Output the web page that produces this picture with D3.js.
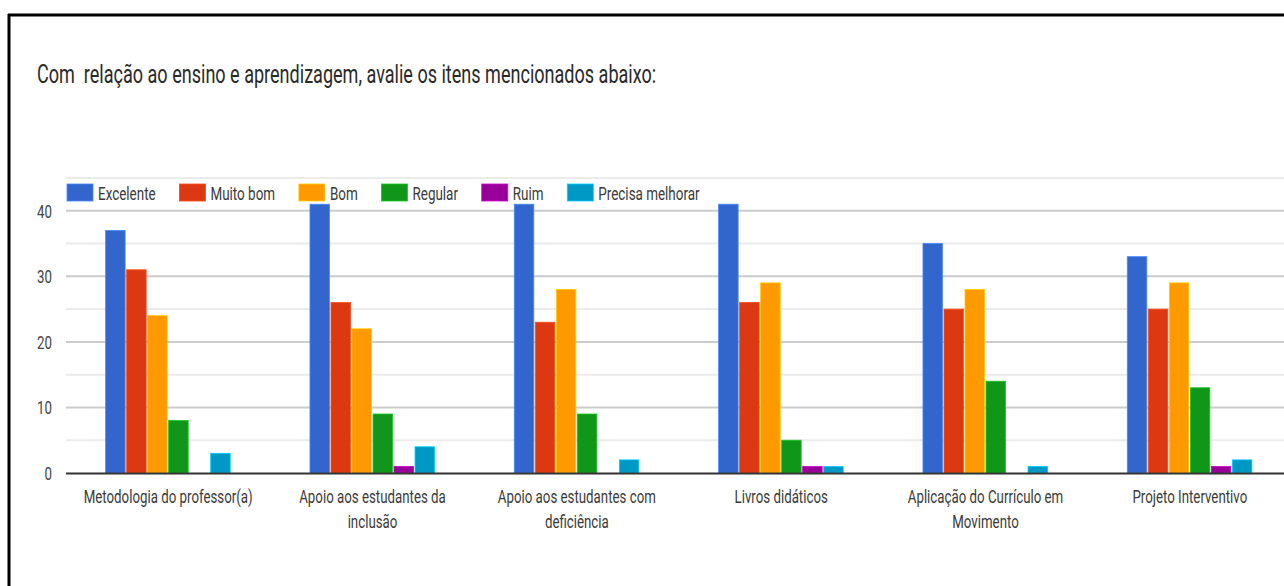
<!DOCTYPE html>
<html>
<head>
<meta charset="utf-8">
<script src="https://cdn.jsdelivr.net/npm/d3@7"></script>
<style>
  html, body { margin: 0; padding: 0; background: #fff; }
  svg { display: block; }
  text { font-family: Roboto, "Liberation Sans", Arial, sans-serif; white-space: pre; }
</style>
</head>
<body>
<svg id="chart" width="1284" height="586"></svg>
<script>
// Survey answers per item, one array per rating
const categories = [
  "Metodologia do professor(a)",
  "Apoio aos estudantes da inclusão",
  "Apoio aos estudantes com deficiência",
  "Livros didáticos",
  "Aplicação do Currículo em Movimento",
  "Projeto Interventivo"
];
const seriesNames = ["Excelente", "Muito bom", "Bom", "Regular", "Ruim", "Precisa melhorar"];
const excelente = [37, 41, 41, 41, 35, 33];
const muitoBom  = [31, 26, 23, 26, 25, 25];
const bom       = [24, 22, 28, 29, 28, 29];
const regular   = [8, 9, 9, 5, 14, 13];
const ruim      = [0, 1, 0, 1, 0, 1];
const precisa   = [3, 4, 2, 1, 1, 2];
const yTicks = [0, 10, 20, 30, 40];
const yMinorTicks = [5, 15, 25, 35, 45];
const title = "Com  relação ao ensino e aprendizagem, avalie os itens mencionados abaixo:";

const seriesValues = [excelente, muitoBom, bom, regular, ruim, precisa];
const colors = ["#3366cc", "#dc3912", "#ff9900", "#109618", "#990099", "#0099c6"];

// Text in this layout is drawn horizontally condensed
const SX = 0.70;

const svg = d3.select("#chart");

function condensedText(sel, x, y, str, size, anchor, fill) {
  return sel.append("text")
    .attr("transform", `translate(${x},${y}) scale(${SX},1)`)
    .attr("font-size", size)
    .attr("fill", fill)
    .attr("text-anchor", anchor || "start")
    .text(str);
}

// Frame lines (top and left)
svg.append("line").attr("x1", 8).attr("x2", 1284).attr("y1", 15).attr("y2", 15)
  .attr("stroke", "#000").attr("stroke-width", 3);
svg.append("line").attr("x1", 9).attr("x2", 9).attr("y1", 14).attr("y2", 586)
  .attr("stroke", "#000").attr("stroke-width", 3);

// Title
condensedText(svg, 37, 83, title, 25.8, "start", "#2a2a2a");

// Scales
const plotLeft = 66, plotRight = 1292;
const x0 = d3.scaleBand().domain(categories).range([plotLeft, plotRight]).paddingInner(0).paddingOuter(0);
const groupWidth = x0.bandwidth() * 0.617;
const x1 = d3.scaleBand().domain(seriesNames).range([0, groupWidth]);
const y = d3.scaleLinear().domain([0, 45]).range([473, 178]);

// Gridlines
const grid = svg.append("g");
grid.selectAll("line.minor").data(yMinorTicks).join("line")
  .attr("class", "minor")
  .attr("x1", plotLeft).attr("x2", 1284)
  .attr("y1", d => y(d)).attr("y2", d => y(d))
  .attr("stroke", "#ebebeb").attr("stroke-width", 2);
grid.selectAll("line.major").data(yTicks.filter(d => d > 0)).join("line")
  .attr("class", "major")
  .attr("x1", plotLeft).attr("x2", 1284)
  .attr("y1", d => y(d)).attr("y2", d => y(d))
  .attr("stroke", "#cccccc").attr("stroke-width", 2);

// Y tick labels
const yLab = svg.append("g");
yTicks.forEach(t => condensedText(yLab, 52, y(t) + 7, String(t), 19, "end", "#444"));

// Bars
const groups = svg.append("g").selectAll("g").data(categories).join("g")
  .attr("transform", c => `translate(${x0(c) + (x0.bandwidth() - groupWidth) / 2},0)`);
groups.each(function (c, ci) {
  const g = d3.select(this);
  seriesNames.forEach((s, si) => {
    const v = seriesValues[si][ci];
    if (v <= 0) return;
    g.append("rect")
      .attr("x", x1(s) + 0.5)
      .attr("width", x1.bandwidth() - 1.5)
      .attr("y", y(v))
      .attr("height", y(0) - y(v))
      .attr("fill", colors[si])
      .attr("stroke", d3.color(colors[si]).brighter(0.8))
      .attr("stroke-width", 0.8);
  });
});

// Baseline
svg.append("line").attr("x1", plotLeft).attr("x2", 1284)
  .attr("y1", y(0) + 0.5).attr("y2", y(0) + 0.5)
  .attr("stroke", "#333").attr("stroke-width", 2);

// Category labels, wrapped to the band width
const maxLabel = 180;
const measure = svg.append("text").attr("opacity", 0);
function widthOf(s, size) {
  measure.attr("font-size", size).text(s);
  return measure.node().getComputedTextLength() * SX;
}
const xLab = svg.append("g");
categories.forEach(c => {
  const words = c.split(" ");
  const lines = [];
  let cur = "";
  words.forEach(w => {
    const test = cur ? cur + " " + w : w;
    if (widthOf(test, 19) > maxLabel && cur) { lines.push(cur); cur = w; } else cur = test;
  });
  lines.push(cur);
  const cx = x0(c) + x0.bandwidth() / 2;
  lines.forEach((ln, i) => condensedText(xLab, cx, 503 + i * 25, ln, 19, "middle", "#3a3a3a"));
});

// Legend
const legend = svg.append("g");
const legendSize = 19.2;
let lx = 67;
seriesNames.forEach((s, i) => {
  legend.append("rect").attr("x", lx).attr("y", 184).attr("width", 26).attr("height", 17)
    .attr("fill", colors[i]).attr("stroke", d3.color(colors[i]).brighter(0.8)).attr("stroke-width", 0.8);
  condensedText(legend, lx + 31, 200, s, legendSize, "start", "#3a3a3a");
  lx += 31 + widthOf(s, legendSize) + 23.8;
});
measure.remove();
</script>
</body>
</html>
